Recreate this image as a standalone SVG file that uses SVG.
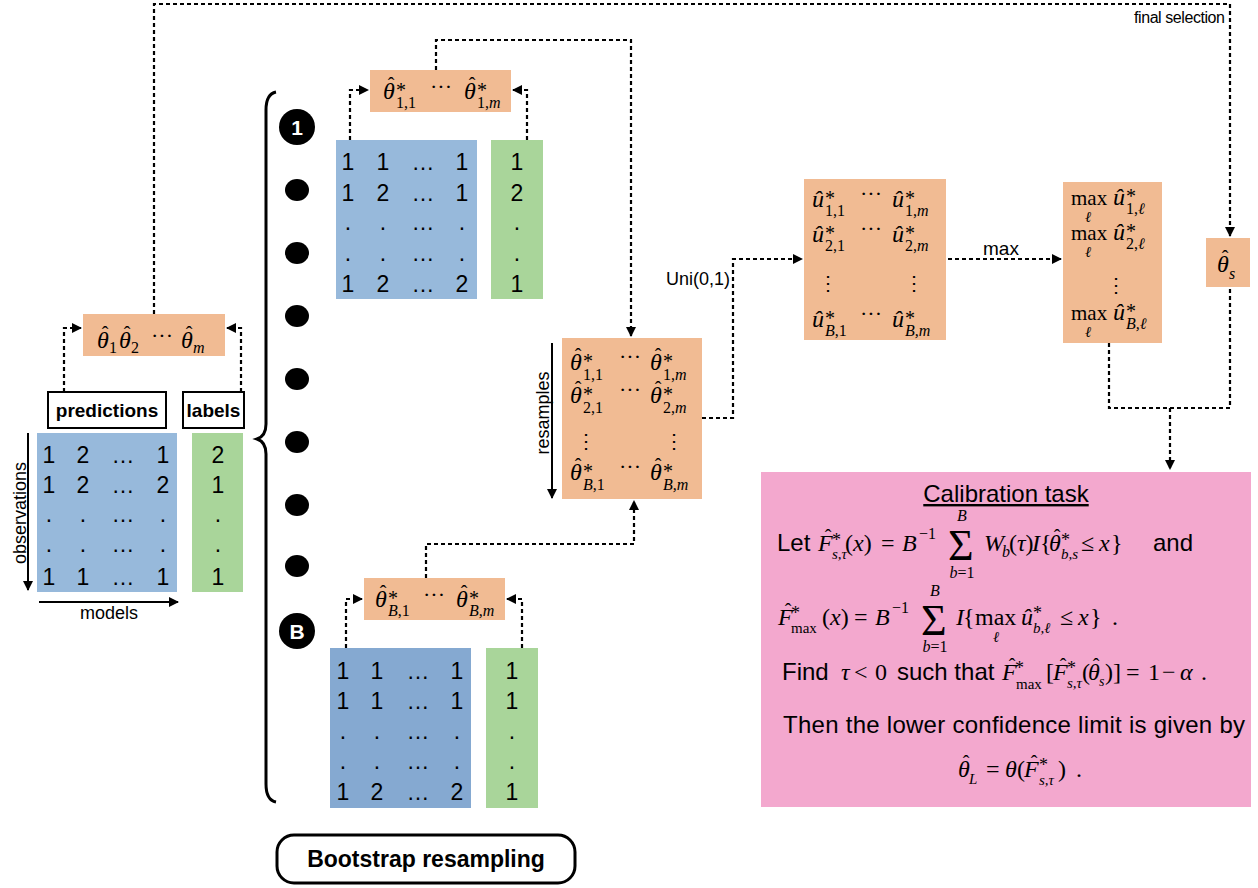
<svg xmlns="http://www.w3.org/2000/svg" width="1258" height="888" viewBox="0 0 1258 888">
<defs>
<marker id="ah" viewBox="0 0 10 10" refX="9" refY="5" markerWidth="10" markerHeight="10" markerUnits="userSpaceOnUse" orient="auto"><path d="M0,0 L10,5 L0,10 z" fill="#000"/></marker>
</defs>
<style>
.dash{fill:none;stroke:#000;stroke-width:2.2;stroke-dasharray:4 3}
.solid{fill:none;stroke:#000;stroke-width:2}
.or{fill:#F1BB93}
.bl{fill:#97B9DB}
.bl2{fill:#85A9D1}
.gr{fill:#A9D59A}
.pk{fill:#F3A8CE}
.n{font-family:"Liberation Sans",Arial,sans-serif;font-size:23px;text-anchor:middle;fill:#000}
.s{font-family:"Liberation Sans",Arial,sans-serif;fill:#000}
.b{font-weight:bold}
.m{font-family:"Liberation Serif","Times New Roman",serif;font-style:italic;font-size:24px;fill:#000}
.u{font-family:"Liberation Serif","Times New Roman",serif;font-style:normal;font-size:24px;fill:#000}
.st{font-family:"Liberation Serif",serif;font-size:20px;fill:#000}
.sb{font-family:"Liberation Serif",serif;font-size:16px;fill:#000}
.h{font-family:"Liberation Serif",serif;font-size:20px;text-anchor:middle;fill:#000}
.i{font-style:italic}
.vd{font-family:"DejaVu Serif",serif;font-size:20px;fill:#000}
.ci{font-family:"Liberation Sans",Arial,sans-serif;font-size:21px;font-weight:bold;fill:#fff;text-anchor:middle}
</style>

<g id="connectors">
<path class="dash" d="M64,392 V328 H81" marker-end="url(#ah)"/>
<path class="dash" d="M241,392 V328 H227" marker-end="url(#ah)"/>
<path class="dash" d="M154,314 V4 H1230 V236" marker-end="url(#ah)"/>
<path class="dash" d="M350,140 V90 H368" marker-end="url(#ah)"/>
<path class="dash" d="M527,140 V90 H513" marker-end="url(#ah)"/>
<path class="dash" d="M436,70 V40 H631 V336" marker-end="url(#ah)"/>
<path class="dash" d="M346,648 V599 H362" marker-end="url(#ah)"/>
<path class="dash" d="M522,648 V599 H507" marker-end="url(#ah)"/>
<path class="dash" d="M426,578 V544 H634 V501" marker-end="url(#ah)"/>
<path class="dash" d="M702,418 H733 V259 H802" marker-end="url(#ah)"/>
<path class="dash" d="M948,259 H1061" marker-end="url(#ah)"/>
<path class="dash" d="M1109,343 V408 H1230 V287"/>
<path class="dash" d="M1170,408 V469" marker-end="url(#ah)"/>
<path class="solid" d="M28,433 V590" marker-end="url(#ah)"/>
<path class="solid" d="M39,602 H178" marker-end="url(#ah)"/>
<path class="solid" d="M552,343 V498" marker-end="url(#ah)"/>
<text class="s" x="730" y="285" font-size="18" text-anchor="end">Uni(0,1)</text>
<text class="s" x="1001" y="255" font-size="19" text-anchor="middle">max</text>
<text class="s" x="1225" y="23" font-size="16" text-anchor="end" textLength="91">final selection</text>
</g>

<g id="theta-orig">
<rect class="or" x="83" y="314" width="142" height="42"/>
<text class="m" x="97" y="348">θ</text><text class="h" x="105" y="341">ˆ</text><text class="sb" x="109" y="353">1</text>
<text class="m" x="119" y="348">θ</text><text class="h" x="127" y="341">ˆ</text><text class="sb" x="131" y="353">2</text>
<text class="u" x="151" y="343" style="font-size:22px">···</text>
<text class="m" x="181" y="348">θ</text><text class="h" x="189" y="341">ˆ</text><text class="sb i" x="193" y="353">m</text>
</g>

<g id="predictions-label">
<rect x="48" y="392" width="118" height="36" fill="#fff" stroke="#000" stroke-width="2"/>
<text class="s b" x="107" y="417" font-size="19" text-anchor="middle">predictions</text>
</g>
<g id="labels-label">
<rect x="183" y="392" width="61" height="36" fill="#fff" stroke="#000" stroke-width="2"/>
<text class="s b" x="213.5" y="417" font-size="19" text-anchor="middle">labels</text>
</g>

<g id="pred-matrix">
<rect class="bl" x="37" y="433" width="140" height="159"/>
<text class="n" x="49" y="463">1</text><text class="n" x="83" y="463">2</text><text class="n" x="123" y="463">…</text><text class="n" x="163" y="463">1</text>
<text class="n" x="49" y="493">1</text><text class="n" x="83" y="493">2</text><text class="n" x="123" y="493">…</text><text class="n" x="163" y="493">2</text>
<text class="n" x="49" y="522">.</text><text class="n" x="83" y="522">.</text><text class="n" x="123" y="522">…</text><text class="n" x="163" y="522">.</text>
<text class="n" x="49" y="552">.</text><text class="n" x="83" y="552">.</text><text class="n" x="123" y="552">…</text><text class="n" x="163" y="552">.</text>
<text class="n" x="49" y="585">1</text><text class="n" x="83" y="585">1</text><text class="n" x="123" y="585">…</text><text class="n" x="163" y="585">1</text>
<text class="s" font-size="18" text-anchor="middle" transform="translate(26,513) rotate(-90)">observations</text>
<text class="s" x="109" y="619" font-size="18" text-anchor="middle">models</text>
</g>
<g id="labels-col">
<rect class="gr" x="192" y="433" width="51" height="159"/>
<text class="n" x="218" y="463">2</text><text class="n" x="218" y="493">1</text><text class="n" x="218" y="522">.</text><text class="n" x="218" y="552">.</text><text class="n" x="218" y="585">1</text>
</g>

<g id="brace">
<path d="M276,92 Q266,94 266,110 L266,424 Q266,436 257,439 Q266,442 266,454 L266,784 Q266,800 276,802" fill="none" stroke="#000" stroke-width="3"/>
<circle cx="297" cy="127" r="18" fill="#000"/><text class="ci" x="297" y="134.5">1</text>
<ellipse cx="297" cy="190" rx="12" ry="11" fill="#000"/>
<ellipse cx="297" cy="253" rx="12" ry="11" fill="#000"/>
<ellipse cx="297" cy="316" rx="12" ry="11" fill="#000"/>
<ellipse cx="297" cy="379" rx="12" ry="11" fill="#000"/>
<ellipse cx="297" cy="442" rx="12" ry="11" fill="#000"/>
<ellipse cx="297" cy="505" rx="12" ry="11" fill="#000"/>
<ellipse cx="297" cy="566" rx="12" ry="11" fill="#000"/>
<circle cx="297" cy="631" r="18" fill="#000"/><text class="ci" x="297" y="638.5">B</text>
</g>

<g id="theta-1">
<rect class="or" x="370" y="70" width="141" height="42"/>
<text class="m" x="383" y="99">θ</text><text class="h" x="391" y="92">ˆ</text><text class="st" x="396" y="97">*</text><text class="sb" x="396" y="108">1,1</text>
<text class="u" x="430" y="94" style="font-size:22px">···</text>
<text class="m" x="464" y="99">θ</text><text class="h" x="472" y="92">ˆ</text><text class="st" x="477" y="97">*</text><text class="sb" x="477" y="108">1,<tspan class="i">m</tspan></text>
</g>
<g id="matrix-1">
<rect class="bl" x="336" y="140" width="141" height="159"/>
<text class="n" x="348" y="170">1</text><text class="n" x="383" y="170">1</text><text class="n" x="423" y="170">…</text><text class="n" x="462" y="170">1</text>
<text class="n" x="348" y="201">1</text><text class="n" x="383" y="201">2</text><text class="n" x="423" y="201">…</text><text class="n" x="462" y="201">1</text>
<text class="n" x="348" y="230">.</text><text class="n" x="383" y="230">.</text><text class="n" x="423" y="230">…</text><text class="n" x="462" y="230">.</text>
<text class="n" x="348" y="261">.</text><text class="n" x="383" y="261">.</text><text class="n" x="423" y="261">…</text><text class="n" x="462" y="261">.</text>
<text class="n" x="348" y="292">1</text><text class="n" x="383" y="292">2</text><text class="n" x="423" y="292">…</text><text class="n" x="462" y="292">2</text>
</g>
<g id="labels-1">
<rect class="gr" x="491" y="140" width="52" height="159"/>
<text class="n" x="517" y="170">1</text><text class="n" x="517" y="201">2</text><text class="n" x="517" y="230">.</text><text class="n" x="517" y="261">.</text><text class="n" x="517" y="292">1</text>
</g>

<g id="theta-B">
<rect class="or" x="364" y="578" width="141" height="42"/>
<text class="m" x="375" y="607">θ</text><text class="h" x="383" y="600">ˆ</text><text class="st" x="388" y="605">*</text><text class="sb" x="388" y="616"><tspan class="i">B</tspan>,1</text>
<text class="u" x="423" y="602" style="font-size:22px">···</text>
<text class="m" x="456" y="607">θ</text><text class="h" x="464" y="600">ˆ</text><text class="st" x="469" y="605">*</text><text class="sb i" x="469" y="616">B,m</text>
</g>
<g id="matrix-B">
<rect class="bl2" x="330" y="648" width="141" height="160"/>
<text class="n" x="343" y="679">1</text><text class="n" x="377" y="679">1</text><text class="n" x="418" y="679">…</text><text class="n" x="457" y="679">1</text>
<text class="n" x="343" y="709">1</text><text class="n" x="377" y="709">1</text><text class="n" x="418" y="709">…</text><text class="n" x="457" y="709">1</text>
<text class="n" x="343" y="739">.</text><text class="n" x="377" y="739">.</text><text class="n" x="418" y="739">…</text><text class="n" x="457" y="739">.</text>
<text class="n" x="343" y="769">.</text><text class="n" x="377" y="769">.</text><text class="n" x="418" y="769">…</text><text class="n" x="457" y="769">.</text>
<text class="n" x="343" y="800">1</text><text class="n" x="377" y="800">2</text><text class="n" x="418" y="800">…</text><text class="n" x="457" y="800">2</text>
</g>
<g id="labels-B">
<rect class="gr" x="486" y="648" width="52" height="160"/>
<text class="n" x="512" y="679">1</text><text class="n" x="512" y="709">1</text><text class="n" x="512" y="739">.</text><text class="n" x="512" y="769">.</text><text class="n" x="512" y="800">1</text>
</g>

<g id="bootstrap-label">
<rect x="277" y="835" width="298" height="48" rx="17" fill="#fff" stroke="#000" stroke-width="3"/>
<text class="s b" x="426" y="867" font-size="23" text-anchor="middle">Bootstrap resampling</text>
</g>

<g id="resamples">
<rect class="or" x="562" y="338" width="140" height="161"/>
<text class="s" font-size="18" text-anchor="middle" transform="translate(549,413) rotate(-90)">resamples</text>
<text class="m" x="570" y="370">θ</text><text class="h" x="578" y="363">ˆ</text><text class="st" x="583" y="368">*</text><text class="sb" x="583" y="380">1,1</text>
<text class="u" x="619" y="364" style="font-size:22px">···</text>
<text class="m" x="650" y="370">θ</text><text class="h" x="658" y="363">ˆ</text><text class="st" x="663" y="368">*</text><text class="sb" x="663" y="380">1,<tspan class="i">m</tspan></text>
<text class="m" x="570" y="403">θ</text><text class="h" x="578" y="396">ˆ</text><text class="st" x="583" y="401">*</text><text class="sb" x="583" y="413">2,1</text>
<text class="u" x="619" y="397" style="font-size:22px">···</text>
<text class="m" x="650" y="403">θ</text><text class="h" x="658" y="396">ˆ</text><text class="st" x="663" y="401">*</text><text class="sb" x="663" y="413">2,<tspan class="i">m</tspan></text>
<text class="vd" x="576" y="448">⋮</text><text class="vd" x="664" y="448">⋮</text>
<text class="m" x="570" y="480">θ</text><text class="h" x="578" y="473">ˆ</text><text class="st" x="583" y="478">*</text><text class="sb" x="583" y="490"><tspan class="i">B</tspan>,1</text>
<text class="u" x="619" y="474" style="font-size:22px">···</text>
<text class="m" x="650" y="480">θ</text><text class="h" x="658" y="473">ˆ</text><text class="st" x="663" y="478">*</text><text class="sb i" x="663" y="490">B,m</text>
</g>

<g id="u-matrix">
<rect class="or" x="804" y="179" width="142" height="161"/>
<text class="m" x="812" y="207">û</text><text class="st" x="825" y="205">*</text><text class="sb" x="825" y="216">1,1</text>
<text class="u" x="860" y="201" style="font-size:22px">···</text>
<text class="m" x="892" y="207">û</text><text class="st" x="905" y="205">*</text><text class="sb" x="905" y="216">1,<tspan class="i">m</tspan></text>
<text class="m" x="812" y="242">û</text><text class="st" x="825" y="240">*</text><text class="sb" x="825" y="251">2,1</text>
<text class="u" x="860" y="236" style="font-size:22px">···</text>
<text class="m" x="892" y="242">û</text><text class="st" x="905" y="240">*</text><text class="sb" x="905" y="251">2,<tspan class="i">m</tspan></text>
<text class="vd" x="818" y="290">⋮</text><text class="vd" x="904" y="290">⋮</text>
<text class="m" x="812" y="327">û</text><text class="st" x="825" y="325">*</text><text class="sb" x="825" y="336"><tspan class="i">B</tspan>,1</text>
<text class="u" x="860" y="321" style="font-size:22px">···</text>
<text class="m" x="892" y="327">û</text><text class="st" x="905" y="325">*</text><text class="sb i" x="905" y="336">B,m</text>
</g>

<g id="max-col">
<rect class="or" x="1063" y="182" width="99" height="161"/>
<text class="u" x="1071" y="205" style="font-size:21px">max</text><text class="sb i" x="1085" y="222" style="font-size:15px">ℓ</text>
<text class="m" x="1113" y="205">û</text><text class="st" x="1126" y="203">*</text><text class="sb" x="1126" y="214">1,<tspan class="i">ℓ</tspan></text>
<text class="u" x="1071" y="240" style="font-size:21px">max</text><text class="sb i" x="1085" y="257" style="font-size:15px">ℓ</text>
<text class="m" x="1113" y="240">û</text><text class="st" x="1126" y="238">*</text><text class="sb" x="1126" y="249">2,<tspan class="i">ℓ</tspan></text>
<text class="vd" x="1106" y="292">⋮</text>
<text class="u" x="1071" y="320" style="font-size:21px">max</text><text class="sb i" x="1085" y="337" style="font-size:15px">ℓ</text>
<text class="m" x="1113" y="320">û</text><text class="st" x="1126" y="318">*</text><text class="sb i" x="1126" y="329">B,ℓ</text>
</g>

<g id="theta-s">
<rect class="or" x="1206" y="238" width="44" height="49"/>
<text class="m" x="1217" y="272">θ</text><text class="h" x="1225" y="265">ˆ</text><text class="sb i" x="1229" y="279">s</text>
</g>

<g id="calibration">
<rect class="pk" x="761" y="472" width="490" height="335"/>
<text class="s" x="1006" y="502" font-size="24" text-anchor="middle" text-decoration="underline">Calibration task</text>
<!-- line 1 -->
<text class="s" x="777" y="551" font-size="24">Let</text>
<text class="m" x="818" y="551">F</text><text class="h" x="828" y="544">ˆ</text><text class="st" x="832" y="546" style="font-size:18px">*</text><text class="sb i" x="832" y="559" style="font-size:15px">s,τ</text>
<text class="u" x="845" y="551">(<tspan class="i">x</tspan>)</text>
<text class="u" x="881" y="551">=</text>
<text class="m" x="902" y="551">B</text>
<text class="sb" x="919" y="539">−1</text>
<text class="u" x="948" y="560" style="font-size:44px">Σ</text>
<text class="sb i" x="962" y="521" text-anchor="middle">B</text>
<text class="sb" x="962" y="578" text-anchor="middle"><tspan class="i">b</tspan>=1</text>
<text class="m" x="984" y="551">W</text><text class="sb i" x="1002" y="557">b</text>
<text class="u" x="1009" y="551">(<tspan class="i">τ</tspan>)</text>
<text class="m" x="1032" y="551">I</text><text class="u" x="1040" y="551">{</text>
<text class="m" x="1049" y="551">θ</text><text class="h" x="1057" y="544">ˆ</text><text class="st" x="1061" y="546" style="font-size:18px">*</text><text class="sb i" x="1061" y="559" style="font-size:15px">b,s</text>
<text class="u" x="1081" y="551">≤</text>
<text class="m" x="1099" y="551">x</text><text class="u" x="1111" y="551">}</text>
<text class="s" x="1153" y="551" font-size="24">and</text>
<!-- line 2 -->
<text class="m" x="778" y="625">F</text><text class="h" x="788" y="618">ˆ</text><text class="st" x="791" y="619" style="font-size:18px">*</text><text class="sb" x="791" y="633" style="font-size:15px">max</text>
<text class="u" x="822" y="625">(<tspan class="i">x</tspan>)</text>
<text class="u" x="854" y="625">=</text>
<text class="m" x="875" y="625">B</text>
<text class="sb" x="892" y="613">−1</text>
<text class="u" x="921" y="635" style="font-size:44px">Σ</text>
<text class="sb i" x="935" y="596" text-anchor="middle">B</text>
<text class="sb" x="935" y="652" text-anchor="middle"><tspan class="i">b</tspan>=1</text>
<text class="m" x="956" y="625">I</text><text class="u" x="963" y="625">{</text>
<text class="u" x="975" y="625">max</text><text class="sb i" x="993" y="642" style="font-size:15px">ℓ</text>
<text class="m" x="1021" y="625">û</text><text class="st" x="1033" y="619" style="font-size:18px">*</text><text class="sb i" x="1033" y="633" style="font-size:15px">b,ℓ</text>
<text class="u" x="1060" y="625">≤</text>
<text class="m" x="1078" y="625">x</text><text class="u" x="1090" y="625">}</text>
<text class="u" x="1112" y="625">.</text>
<!-- line 3 -->
<text class="s" x="782" y="680" font-size="24">Find</text>
<text class="m" x="841" y="680">τ</text><text class="u" x="854" y="680">&lt;</text><text class="u" x="875" y="680">0</text>
<text class="s" x="897" y="680" font-size="24">such that</text>
<text class="m" x="1002" y="680">F</text><text class="h" x="1012" y="673">ˆ</text><text class="st" x="1015" y="674" style="font-size:18px">*</text><text class="sb" x="1016" y="689" style="font-size:15px">max</text>
<text class="u" x="1046" y="680">[</text>
<text class="m" x="1053" y="680">F</text><text class="h" x="1063" y="673">ˆ</text><text class="st" x="1067" y="674" style="font-size:18px">*</text><text class="sb i" x="1067" y="688" style="font-size:15px">s,τ</text>
<text class="u" x="1082" y="680">(</text>
<text class="m" x="1088" y="680">θ</text><text class="h" x="1096" y="673">ˆ</text><text class="sb i" x="1099" y="686" style="font-size:14px">s</text>
<text class="u" x="1105" y="680">)]</text>
<text class="u" x="1126" y="680">=</text>
<text class="u" x="1148" y="680">1</text>
<text class="u" x="1162" y="680">−</text>
<text class="m" x="1180" y="680">α</text>
<text class="u" x="1201" y="680">.</text>
<!-- line 4 -->
<text class="s" x="783" y="733" font-size="24" textLength="462">Then the lower confidence limit is given by</text>
<!-- line 5 -->
<text class="m" x="958" y="777">θ</text><text class="h" x="966" y="770">ˆ</text><text class="sb i" x="969" y="784" style="font-size:15px">L</text>
<text class="u" x="986" y="777">=</text>
<text class="m" x="1005" y="777">θ</text>
<text class="u" x="1017" y="777">(</text>
<text class="m" x="1024" y="777">F</text><text class="h" x="1034" y="770">ˆ</text><text class="st" x="1039" y="771" style="font-size:18px">*</text><text class="sb i" x="1039" y="785" style="font-size:15px">s,τ</text>
<text class="u" x="1058" y="777">)</text>
<text class="u" x="1076" y="777">.</text>
</g>
</svg>
